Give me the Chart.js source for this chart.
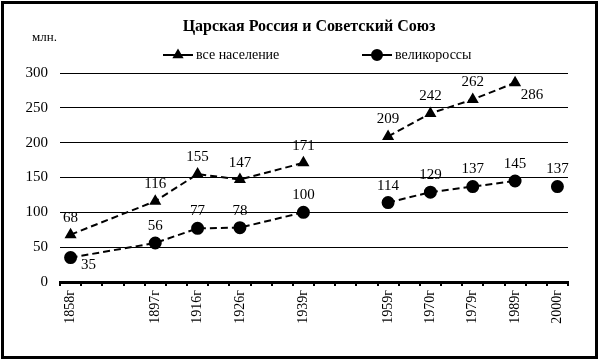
<!DOCTYPE html>
<html>
<head>
<meta charset="utf-8">
<script src="https://cdn.jsdelivr.net/npm/chart.js@4"></script>
<style>
  body { margin: 0; background: #fff; }
  #wrap { position: relative; width: 600px; height: 364px; }
  #frame { position: absolute; left: 1px; top: 1px; width: 591px; height: 352px; border: 3px solid #000; }
  #chart { position: absolute; left: 0; top: 0; }
</style>
</head>
<body>
<div id="wrap"><div id="frame"></div><canvas id="chart" width="600" height="364"></canvas></div>
<script>
// категории (пустые - промежуточные годы без подписи)
const categories = ['1858г', '', '', '', '1897г', '', '1916г', '', '1926г', '', '', '1939г',
    '', '', '', '1959г', '', '1970г', '', '1979г', '', '1989г', '', '2000г'];
const allPopulation = [68, null, null, null, 116, null, 155, null, 147, null, null, 171,
    null, null, null, 209, null, 242, null, 262, null, 286, null, null];
const greatRussians = [35, null, null, null, 56, null, 77, null, 78, null, null, 100,
    null, null, null, 114, null, 129, null, 137, null, 145, null, 137];
// после этих лет линия прерывается
const allPopBreaks = ['1939г'];
const rusBreaks = ['1939г', '1989г'];
const yTicks = [0, 50, 100, 150, 200, 250, 300];

const FONT = "'Liberation Serif', 'Times New Roman', serif";

// true для отрезка, который начинается в точке из списка breaks
function isBreak(breaks, data, ctx) {
    const i1 = ctx.p1DataIndex;
    if (data[i1] === null) return false;
    let j = i1 - 1;
    while (j > 0 && data[j] === null) j--;
    return breaks.includes(categories[j]);
}

// подписи значений у точек
const valueLabels = {
    id: 'valueLabels',
    afterDatasetsDraw(chart) {
        const c = chart.ctx;
        c.save();
        c.font = '15px ' + FONT;
        c.fillStyle = '#000';
        c.textAlign = 'center';
        c.textBaseline = 'middle';
        chart.data.datasets.forEach((ds, di) => {
            const meta = chart.getDatasetMeta(di);
            ds.data.forEach((v, i) => {
                if (v === null) return;
                const pt = meta.data[i];
                let dx = 0, dy = -17;
                if (di === 0 && categories[i] === '1989г') { dx = 17; dy = 12; }
                if (di === 1 && categories[i] === '1858г') { dx = 18; dy = 7; }
                c.fillText(String(v), pt.x + dx, pt.y + dy);
            });
        });
        c.restore();
    }
};

// легенда и подпись "млн."
const legendAndUnits = {
    id: 'legendAndUnits',
    afterDraw(chart) {
        const c = chart.ctx;
        c.save();
        c.fillStyle = '#000';
        c.strokeStyle = '#000';
        c.font = '13px ' + FONT;
        c.textBaseline = 'middle';
        c.fillText('млн.', 32, 38);

        const y = 55;
        c.lineWidth = 2;
        c.beginPath(); c.moveTo(163, y); c.lineTo(193, y); c.stroke();
        Chart.helpers.drawPoint(c, {pointStyle: 'triangle', radius: 4.5, borderWidth: 1}, 178, y);
        c.fill();
        c.beginPath(); c.moveTo(362, y); c.lineTo(392, y); c.stroke();
        Chart.helpers.drawPoint(c, {pointStyle: 'circle', radius: 5, borderWidth: 1}, 377, y);
        c.fill();

        c.font = '14px ' + FONT;
        c.fillText(chart.data.datasets[0].label, 196, y);
        c.fillText(chart.data.datasets[1].label, 395, y);
        c.restore();
    }
};

const ctx = document.getElementById('chart').getContext('2d');
const chart = new Chart(ctx, {
    type: 'line',
    data: {
        labels: categories,
        datasets: [{
            label: 'все население',
            data: allPopulation,
            borderColor: '#000',
            backgroundColor: '#000',
            borderWidth: 2,
            borderDash: [7, 4],
            pointStyle: 'triangle',
            pointRadius: 5,
            pointBackgroundColor: '#000',
            pointBorderColor: '#000',
            spanGaps: true,
            segment: {
                borderColor: c => isBreak(allPopBreaks, allPopulation, c) ? 'rgba(0,0,0,0)' : undefined
            }
        }, {
            label: 'великороссы',
            data: greatRussians,
            borderColor: '#000',
            backgroundColor: '#000',
            borderWidth: 2,
            borderDash: [7, 4],
            pointStyle: 'circle',
            pointRadius: 5.5,
            pointBackgroundColor: '#000',
            pointBorderColor: '#000',
            spanGaps: true,
            segment: {
                borderColor: c => isBreak(rusBreaks, greatRussians, c) ? 'rgba(0,0,0,0)' : undefined
            }
        }]
    },
    options: {
        responsive: false,
        animation: false,
        layout: { padding: { left: 18, right: 0, top: 0, bottom: 0 } },
        plugins: {
            legend: { display: false },
            tooltip: { enabled: false },
            title: {
                display: true,
                text: 'Царская Россия и Советский Союз',
                color: '#000',
                font: { family: FONT, size: 16, weight: 'bold' },
                padding: { top: 17, bottom: 36.8 }
            }
        },
        scales: {
            x: {
                offset: true,
                grid: { offset: true, drawOnChartArea: false, drawTicks: true, tickLength: 4, color: '#000', lineWidth: 2 },
                border: { color: '#000', width: 3 },
                ticks: {
                    autoSkip: false,
                    maxRotation: 90,
                    minRotation: 90,
                    padding: 4,
                    color: '#000',
                    font: { family: FONT, size: 14 }
                },
                afterFit: s => { s.height = 82; }
            },
            y: {
                min: 0,
                max: 300,
                afterBuildTicks: s => { s.ticks = yTicks.map(v => ({ value: v })); },
                grid: { color: '#000', lineWidth: 1, drawTicks: false },
                border: { display: false },
                ticks: { padding: 12, color: '#000', font: { family: FONT, size: 15 } },
                afterFit: s => { s.width = 42; }
            },
            y2: {
                position: 'right',
                grid: { drawOnChartArea: false, drawTicks: false },
                border: { display: false },
                ticks: { display: false },
                afterFit: s => { s.width = 32; }
            }
        }
    },
    plugins: [valueLabels, legendAndUnits]
});
</script>
</body>
</html>
